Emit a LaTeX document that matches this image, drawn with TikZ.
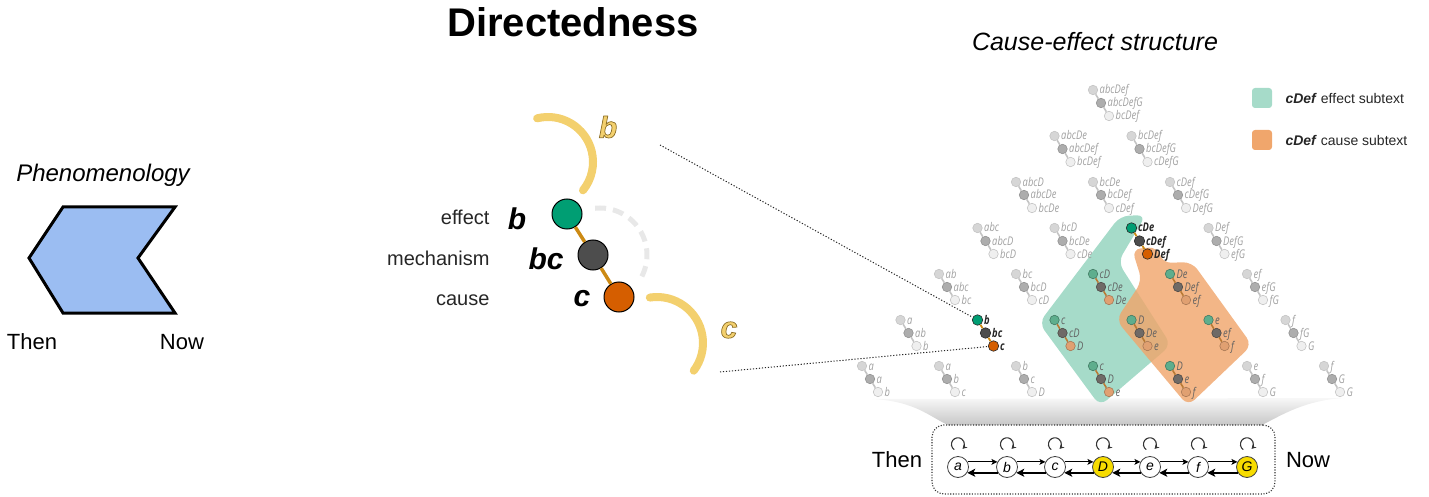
\documentclass[tikz,border=0pt]{standalone}
\usepackage{fontspec}
\setmainfont{Liberation Sans}
\newfontfamily\latfont[FakeStretch=0.78]{Open Sans}
\usetikzlibrary{arrows.meta}
\definecolor{phblue}{RGB}{155,189,242}
\definecolor{effgreen}{RGB}{0,158,115}
\definecolor{mechgray}{RGB}{77,77,77}
\definecolor{causeorange}{RGB}{213,94,0}
\definecolor{mechlinec}{RGB}{204,138,20}
\definecolor{yarcc}{RGB}{243,208,110}
\definecolor{effreg}{RGB}{166,219,201}
\definecolor{caureg}{RGB}{240,166,108}
\definecolor{dyellow}{RGB}{247,220,0}
\definecolor{gtopc}{RGB}{214,214,214}
\definecolor{gmidc}{RGB}{173,173,173}
\definecolor{gbotc}{RGB}{239,239,239}
\definecolor{gdraw}{RGB}{196,196,196}
\definecolor{glabc}{RGB}{160,160,160}
\definecolor{ctopc}{RGB}{94,174,141}
\definecolor{cmidc}{RGB}{111,106,102}
\definecolor{cbotc}{RGB}{224,160,113}
\definecolor{clinec}{RGB}{185,122,53}
\definecolor{dashc}{RGB}{232,232,232}
\newcommand\outl[1]{\special{pdf:literal direct 2 Tr 0.7 w 0.55 0.43 0.15 RG}#1\special{pdf:literal direct 0 Tr}}
\newcommand\trip[7]{%
  \node[#1top] (#7t) at (#2,-#3) {};
  \node[#1mid] (#7m) at ([shift={(8,-13)}]#7t.center) {};
  \node[#1bot] (#7b) at ([shift={(16,-26)}]#7t.center) {};
  \draw[#1line] (#7t) -- (#7m) -- (#7b);
  \node[#1lab] at ([shift={(6.5,-4)}]#7t.center) {#4};
  \node[#1lab] at ([shift={(6.5,-4)}]#7m.center) {#5};
  \node[#1lab] at ([shift={(6.5,-4)}]#7b.center) {#6};
}
\begin{document}
\begin{tikzpicture}[x=1pt,y=1pt,
  gtop/.style={circle,inner sep=0,minimum size=9.5,fill=gtopc,draw=gdraw,line width=.6},
  gmid/.style={gtop,fill=gmidc,draw=gmidc!85!black},
  gbot/.style={gtop,fill=gbotc},
  gline/.style={draw=gdraw,line width=1.6},
  glab/.style={anchor=base west,inner sep=0,font=\latfont\itshape\fontsize{12}{12}\selectfont,text=glabc},
  ctop/.style={circle,inner sep=0,minimum size=9.5,fill=ctopc,draw=ctopc!70!black,line width=.6},
  cmid/.style={ctop,fill=cmidc,draw=cmidc!70!black},
  cbot/.style={ctop,fill=cbotc,draw=cbotc!75!black},
  cline/.style={draw=clinec,line width=1.6},
  clab/.style={glab,text=black!62},
  htop/.style={circle,inner sep=0,minimum size=10.5,fill=effgreen,draw=black!85,line width=.6},
  hmid/.style={htop,fill=mechgray},
  hbot/.style={htop,fill=causeorange},
  hline/.style={draw=mechlinec,line width=1.8},
  hlab/.style={glab,font=\latfont\bfseries\itshape\fontsize{12}{12}\selectfont,text=black!85},
  bigcirc/.style={circle,draw=black,line width=1,minimum size=30,inner sep=0},
  yarc/.style={draw=yarcc,line width=8,line cap=round},
  ylab/.style={font=\bfseries\itshape\fontsize{30}{30}\selectfont,text=yarcc},
  rolelab/.style={anchor=mid east,font=\fontsize{20}{20}\selectfont,text=black!85},
  varlab/.style={font=\bfseries\itshape\fontsize{30}{30}\selectfont},
  chainnode/.style={circle,draw=black!75,line width=.8,minimum size=21,inner sep=0,font=\itshape\fontsize{14}{14}\selectfont},
  thinarr/.style={line width=1,-{Stealth[length=6pt,width=6pt,inset=1.5pt]}},
  thickarr/.style={line width=1.8,-{Stealth[length=8pt,width=8pt,inset=2pt]}},
  selfloop/.style={draw=black!80,line width=1.1,-{Stealth[length=4.5pt,width=5pt]}},
  dotline/.style={draw=black!85,line width=1,dash pattern=on 1.2pt off 1.8pt}
]
\useasboundingbox (0,0) rectangle (1429,-497);

% ---------------- Phenomenology ----------------
\node[anchor=base,font=\itshape\fontsize{24}{24}\selectfont] (phen) at (103,-182) {Phenomenology};
\draw[line width=3,fill=phblue,line join=miter] (63,-207) -- (175,-207) -- (138,-258) -- (175,-313) -- (63,-313) -- (29,-258) -- cycle;
\node[font=\fontsize{22}{22}\selectfont] (then1) at (32,-342) {Then};
\node[font=\fontsize{22}{22}\selectfont] (now1) at (182,-342) {Now};

% ---------------- Directedness ----------------
\node[anchor=base,font=\bfseries\fontsize{40}{40}\selectfont] (title) at (573,-37) {Directedness};
\draw[yarc] (548,-162) ++(104:45) arc[start angle=104,end angle=-39,radius=45];
\draw[yarc] (657,-343) ++(99:46) arc[start angle=99,end angle=-37,radius=46];
\node[ylab] (yb) at (608,-127) {\outl{b}};
\node[ylab] (yc) at (729,-330) {\outl{c}};
\draw[draw=dashc,line width=5,dash pattern=on 11pt off 7pt] (600,-255) ++(96:47) arc[start angle=96,end angle=-32,radius=47];
\node[bigcirc,fill=effgreen] (eff) at (567,-214) {};
\node[bigcirc,fill=mechgray] (mec) at (593,-255) {};
\node[bigcirc,fill=causeorange] (cau) at (619,-297) {};
\draw[draw=mechlinec,line width=3.5] (eff) -- (mec) -- (cau);
\node[rolelab] (leff) at (493,-222) {effect};
\node[rolelab] (lmec) at (493,-263) {mechanism};
\node[rolelab] (lcau) at (493,-303) {cause};
\node[varlab] (vb) at (517,-219) {b};
\node[varlab] (vbc) at (546,-259) {bc};
\node[varlab] (vc) at (582,-299) {c};

% ---------------- Cause-effect structure ----------------
\node[anchor=base,font=\itshape\fontsize{25}{25}\selectfont] (ces) at (1095,-51) {Cause-effect structure};

% legend
\node[fill=effreg,rounded corners=3,minimum size=20,inner sep=0] (leg1) at (1262,-98) {};
\node[fill=caureg,rounded corners=3,minimum size=20,inner sep=0] (leg2) at (1262,-140) {};
\node[anchor=west,font=\fontsize{14}{14}\selectfont,text=black!85] (legt1) at (1282,-98) {\textbf{\textit{cDef}} effect subtext};
\node[anchor=west,font=\fontsize{14}{14}\selectfont,text=black!85] (legt2) at (1282,-140) {\textbf{\textit{cDef}} cause subtext};

% spotlight
\shade[top color=black!3,bottom color=black!22] (872,-399) .. controls (915,-401) and (930,-417) .. (948,-425) -- (1262,-425) .. controls (1282,-415) and (1305,-400) .. (1345,-398) -- cycle;

% subtext regions
\fill[effreg,rounded corners=9] (1120,-216) -- (1146,-215) -- (1118,-262) -- (1171,-345) -- (1100,-406) -- (1039,-323) -- cycle;
\fill[caureg,opacity=.82,rounded corners=9] (1132,-249) -- (1158,-247) -- (1162,-263) -- (1192,-262) -- (1252,-345) -- (1188,-406) -- (1116,-320) -- (1142,-281) -- cycle;

% lattice: gray
\foreach \rr/\ii/\la/\lb/\lc in {0/0/a/a/b, 0/1/a/b/c, 0/2/b/c/D, 0/5/e/f/G, 0/6/f/G/G,
  1/0/a/ab/b, 1/5/f/fG/G, 2/0/ab/abc/bc, 2/1/bc/bcD/cD, 2/4/ef/efG/fG,
  3/0/abc/abcD/bcD, 3/1/bcD/bcDe/cDe, 3/3/Def/DefG/efG,
  4/0/abcD/abcDe/bcDe, 4/1/bcDe/bcDef/cDef, 4/2/cDef/cDefG/DefG,
  5/0/abcDe/abcDef/bcDef, 5/1/bcDef/bcDefG/cDefG, 6/0/abcDef/abcDefG/bcDef}
{\pgfmathsetmacro\xx{862+38.5*\rr+77*\ii}\pgfmathsetmacro\yy{366-46*\rr}%
 \trip{g}{\xx}{\yy}{\la}{\lb}{\lc}{L\rr\ii}}
% lattice: in subtext regions
\foreach \rr/\ii/\la/\lb/\lc in {0/3/c/D/e, 0/4/D/e/f, 1/2/c/cD/D, 1/3/D/De/e, 1/4/e/ef/f, 2/2/cD/cDe/De, 2/3/De/Def/ef}
{\pgfmathsetmacro\xx{862+38.5*\rr+77*\ii}\pgfmathsetmacro\yy{366-46*\rr}%
 \trip{c}{\xx}{\yy}{\la}{\lb}{\lc}{L\rr\ii}}
% lattice: highlighted
\foreach \rr/\ii/\la/\lb/\lc in {1/1/b/bc/c, 3/2/cDe/cDef/Def}
{\pgfmathsetmacro\xx{862+38.5*\rr+77*\ii}\pgfmathsetmacro\yy{366-46*\rr}%
 \trip{h}{\xx}{\yy}{\la}{\lb}{\lc}{L\rr\ii}}

% zoom lines
\coordinate (z1) at (660,-145);
\coordinate (z2) at (720,-372);
\draw[dotline] (z1) -- (L11t);
\draw[dotline] (z2) -- (L11b);

% bottom chain
\node[draw=black!80,line width=1.1,dash pattern=on 1.1pt off 1.6pt,rounded corners=12,minimum width=343,minimum height=69,inner sep=0] (box) at (1103.5,-459.5) {};
\foreach \n/\x/\f in {a/958/white, b/1007/white, c/1055/white, D/1103/dyellow, e/1150/white, f/1198/white, G/1247/dyellow}
{\node[chainnode,fill=\f] (s\n) at (\x,-467) {\n};
 \draw[selfloop] ([shift={(-3.8,6.5)}]s\n.north) arc[start angle=235,end angle=-45,radius=6.5];}
\foreach \p/\q in {a/b,b/c,c/D,D/e,e/f,f/G}
{\draw[thinarr] (s\p.28) -- (s\q.152);
 \draw[thickarr] (s\q.212) -- (s\p.328);}
\node[font=\fontsize{22}{22}\selectfont] (then2) at (897,-460) {Then};
\node[font=\fontsize{22}{22}\selectfont] (now2) at (1308,-460) {Now};
\end{tikzpicture}
\end{document}
